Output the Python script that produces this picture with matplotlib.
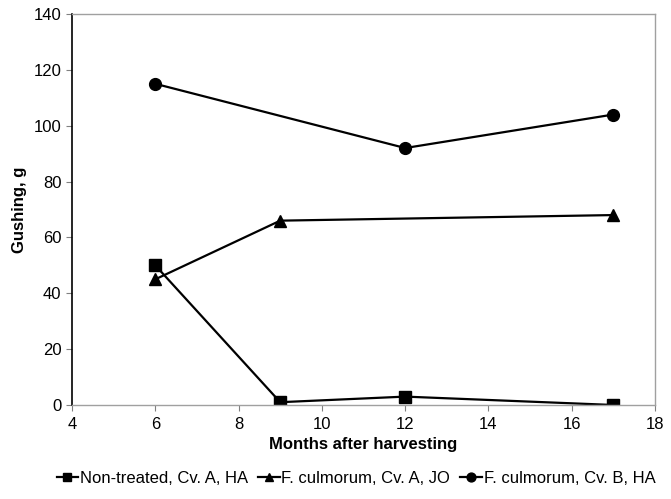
import matplotlib.pyplot as plt

plt.rcParams['font.family'] = ['Liberation Sans', 'DejaVu Sans']

# months after harvesting and gushing values per sample
months_nt = [6, 9, 12, 17]
gushing_nt = [50, 1, 3, 0]

months_jo = [6, 9, 17]
gushing_jo = [45, 66, 68]

months_b = [6, 12, 17]
gushing_b = [115, 92, 104]

labels = ['Non-treated, Cv. A, HA',
          'F. culmorum, Cv. A, JO',
          'F. culmorum, Cv. B, HA']

fig = plt.figure(figsize=(6.71, 4.99), dpi=100)
ax = fig.add_axes([0.1073, 0.1884, 0.8689, 0.7836])

ax.plot(months_nt, gushing_nt, '-s', color='black', linewidth=1.6, markersize=8, label=labels[0])
ax.plot(months_jo, gushing_jo, '-^', color='black', linewidth=1.6, markersize=8.5, label=labels[1])
ax.plot(months_b, gushing_b, '-o', color='black', linewidth=1.6, markersize=8.5, label=labels[2])

ax.set_xlim(4, 18)
ax.set_ylim(0, 140)
ax.set_xticks(range(4, 19, 2))
ax.set_yticks(range(0, 141, 20))

for side in ['top', 'right', 'bottom']:
    ax.spines[side].set_color('#a0a0a0')
    ax.spines[side].set_linewidth(1.0)
ax.spines['left'].set_color('black')
ax.spines['left'].set_linewidth(1.2)

ax.tick_params(axis='both', colors='#808080', labelcolor='black', labelsize=12, length=4, width=0.8)
ax.tick_params(axis='x', pad=5)

ax.set_xlabel('Months after harvesting', fontsize=12, fontweight='bold', labelpad=3)
ax.set_ylabel('Gushing, g', fontsize=12, fontweight='bold', labelpad=5)

ax.legend(loc='center', bbox_to_anchor=(0.487, -0.187), ncol=3, frameon=False,
          fontsize=12, handlelength=1.3, handletextpad=0.1, columnspacing=0.6,
          markerscale=0.75)

fig.savefig('out.png', dpi=100)
